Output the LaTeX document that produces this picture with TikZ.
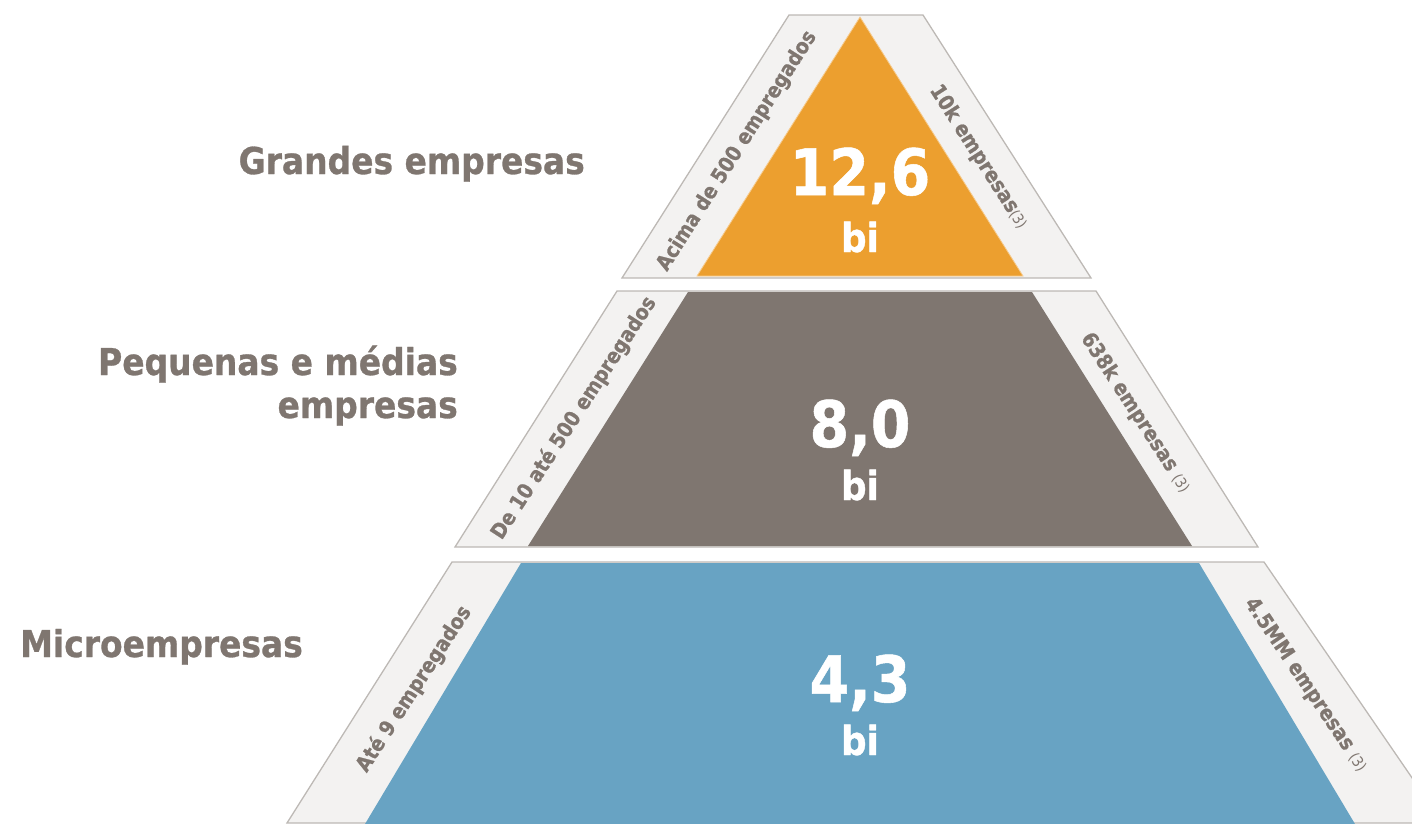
\documentclass[tikz,border=0pt]{standalone}
\usepackage{fontspec}
\setmainfont{DejaVu Sans}[FakeStretch=0.89, BoldFeatures={FakeBold=0.8}]
\definecolor{bandfill}{HTML}{F3F2F1}
\definecolor{bandline}{HTML}{BDB9B5}
\definecolor{labelgray}{HTML}{7F7670}
\definecolor{topfill}{HTML}{EC9F2F}
\definecolor{topedge}{HTML}{F6CB8E}
\definecolor{midfill}{HTML}{7F7670}
\definecolor{lowfill}{HTML}{68A3C3}
\newcommand{\nota}{{\mdseries\fontsize{15}{15}\selectfont(3)}}

\begin{document}
\begin{tikzpicture}[x=1pt, y=-1pt,
    band/.style={fill=bandfill, draw=bandline, line width=1.3pt},
    level/.style={font=\bfseries\fontsize{37}{43}\selectfont, text=labelgray, inner sep=0pt, align=right},
    side/.style={font=\bfseries\fontsize{21}{21}\selectfont, text=labelgray, inner sep=0pt},
    value/.style={font=\bfseries\fontsize{64}{64}\selectfont, text=white, inner sep=0pt, anchor=base},
    unit/.style={font=\bfseries\fontsize{40}{40}\selectfont, text=white, inner sep=0pt, anchor=base}]
    \clip (0,0) rectangle (1412,823);

    % grandes empresas
    \draw[band] (789,15) -- (923,15) -- (1091,278) -- (622,278) -- cycle;
    \fill[topfill, draw=topedge, line width=0.8pt] (860,17) -- (1023,276) -- (697,276) -- cycle;
    \node[value] (v1) at (860,195) {12,6};
    \node[unit] (u1) at (860,252) {bi};
    \node[side, rotate=57.6] (s1) at (737,151) {Acima de 500 empregados};
    \node[side, rotate=-57.4] (r1) at (979,157) {10k empresas\nota};

    % pequenas e medias
    \draw[band] (617,291) -- (1096,291) -- (1258,547) -- (455,547) -- cycle;
    \fill[midfill] (688,292) -- (1032,292) -- (1192,546) -- (528,546) -- cycle;
    \node[value] (v2) at (860,447) {8,0};
    \node[unit] (u2) at (860,500) {bi};
    \node[side, rotate=57.0] (s2) at (574,418) {De 10 até 500 empregados};
    \node[side, rotate=-57.0] (r2) at (1136,413) {638k empresas \nota};

    % microempresas
    \draw[band] (452,562) -- (1264,562) -- (1443,823) -- (287,823) -- cycle;
    \fill[lowfill] (521,563) -- (1199,563) -- (1355,824) -- (365,824) -- cycle;
    \node[value] (v3) at (860,702) {4,3};
    \node[unit] (u3) at (860,755) {bi};
    \node[side, rotate=57.0] (s3) at (414,689) {Até 9 empregados};
    \node[side, rotate=-56.0] (r3) at (1306,685) {4.5MM empresas \nota};

    % rotulos
    \node[level, anchor=base east] (grandes) at (585,174) {Grandes empresas};
    \node[level, anchor=base east] (pequenas) at (458,418) {Pequenas e médias\\empresas};
    \node[level, anchor=base west] (micro) at (20,657) {Microempresas};
\end{tikzpicture}
\end{document}
